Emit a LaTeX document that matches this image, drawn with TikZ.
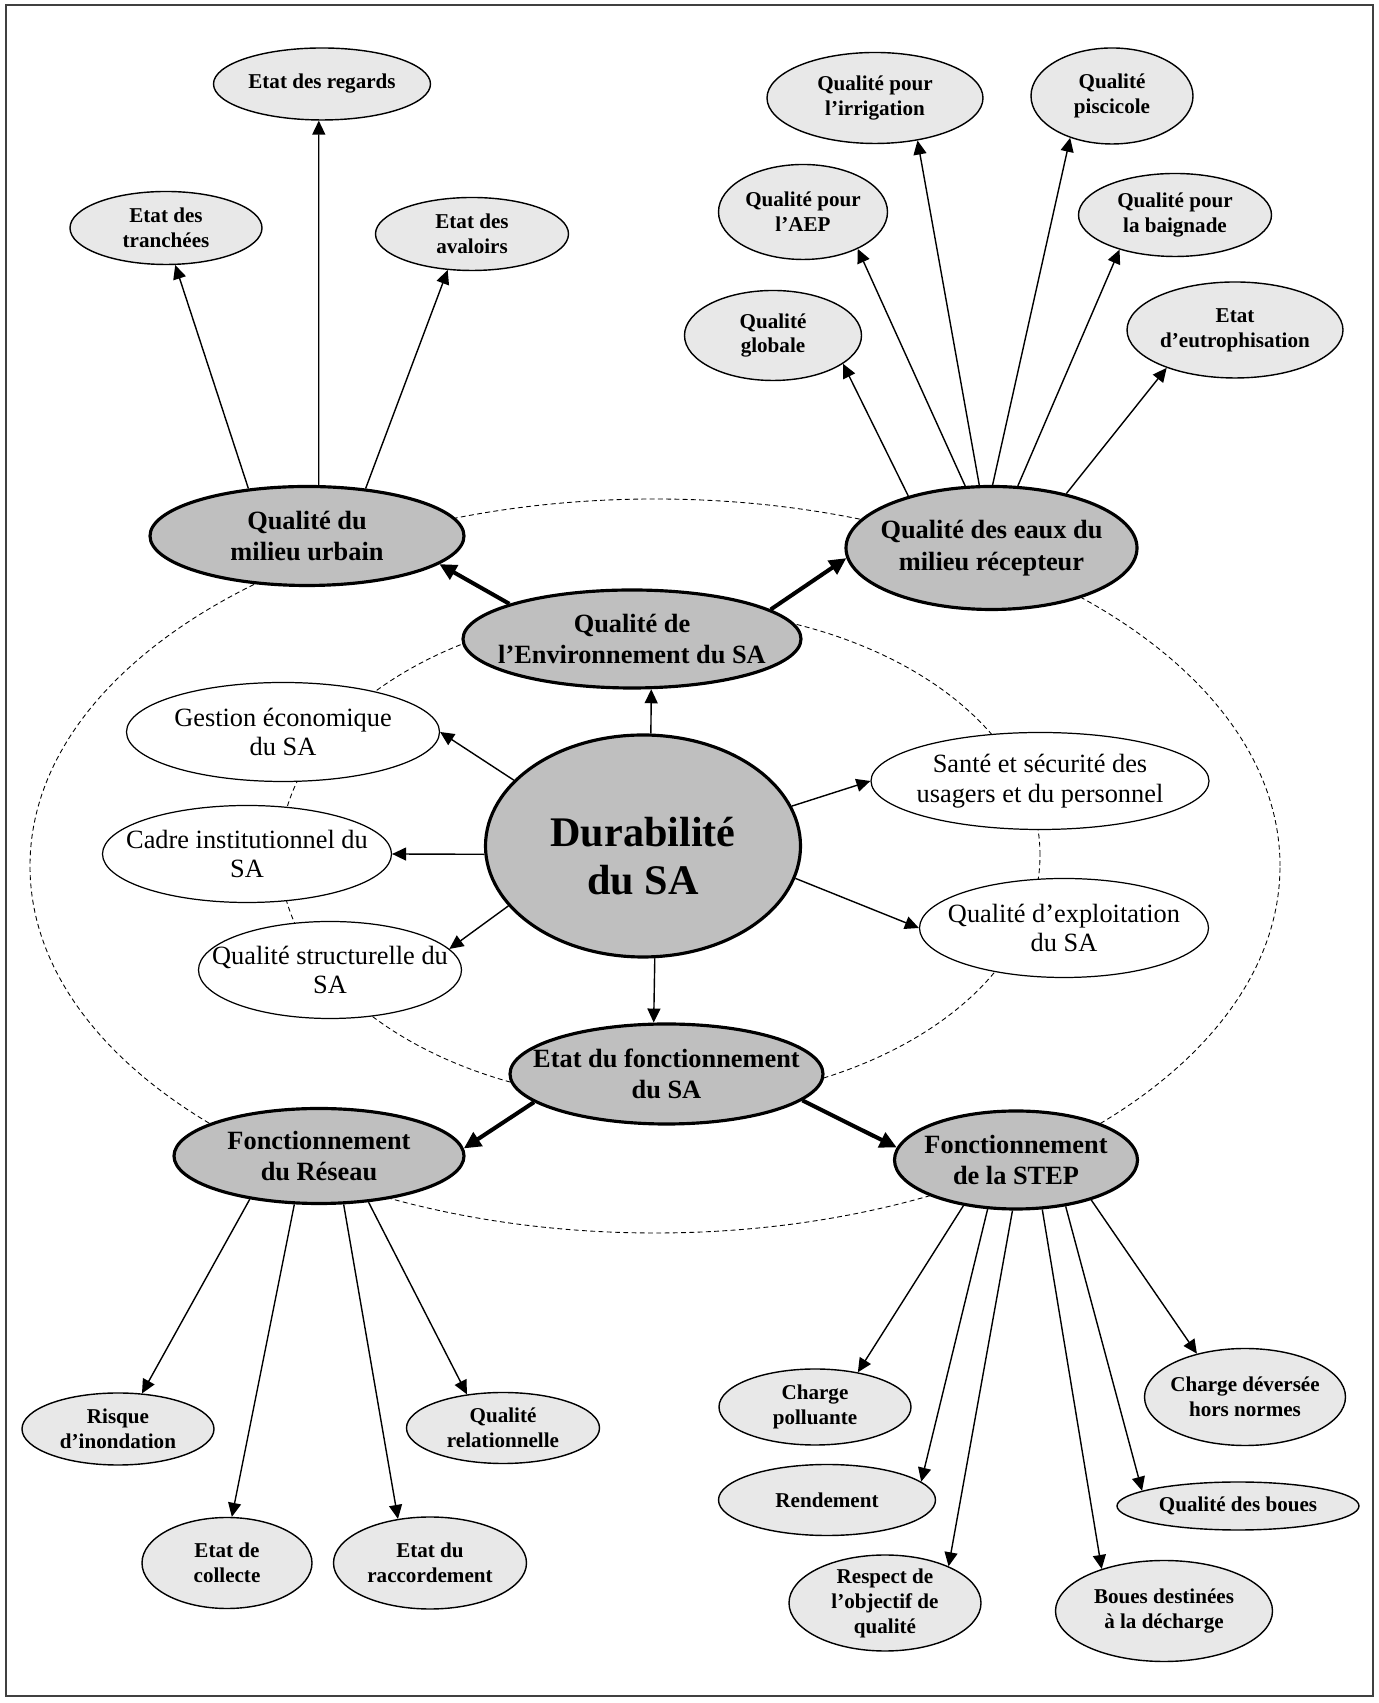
\documentclass[tikz,border=0pt]{standalone}
\usepackage{fontspec}
\setmainfont{Liberation Serif}
\usepackage{tikz}
\usetikzlibrary{shapes.geometric,arrows.meta}
\tikzset{
  esz/.style 2 args={minimum width=#1cm, minimum height=#2cm},
  ring/.style={dash pattern=on 2.8pt off 1.9pt, line width=0.5pt},
  core/.style={ellipse, draw, line width=1.8pt, fill=black!25, inner sep=0pt,
    label={[align=center, font=\bfseries\fontsize{15}{18}\selectfont]center:#1}},
  hub/.style={ellipse, draw, line width=1.8pt, fill=black!25, inner sep=0pt,
    label={[align=center, yshift=-0.2cm, font=\bfseries\fontsize{24}{27.5}\selectfont]center:#1}},
  leaf/.style={ellipse, draw, line width=0.8pt, fill=black!9, inner sep=0pt,
    label={[align=center, font=\bfseries\fontsize{12}{14.2}\selectfont]center:#1}},
  aspect/.style={ellipse, draw, line width=0.7pt, fill=white, inner sep=0pt,
    label={[align=center, font=\fontsize{15}{17}\selectfont]center:#1}},
  link/.style={-{Triangle[length=2.8mm, width=2.6mm]}, line width=0.8pt},
  biglink/.style={-{Triangle[length=3.4mm, width=3.2mm]}, line width=2.3pt},
}

\begin{document}
\begin{tikzpicture}
  \useasboundingbox (0,0) rectangle (27.56,34.06);
  \draw[black!75, line width=0.6pt] (0.12,0.14) rectangle (27.46,33.96);
  \draw[ring] (13.20,16.96) ellipse [x radius=7.60cm, y radius=4.94cm];
  \draw[ring] (13.10,16.74) ellipse [x radius=12.50cm, y radius=7.34cm];

  \node[leaf={Etat des regards}, esz={4.34}{1.44}] (regards) at (6.44,32.38) {};
  \node[leaf={Etat des\\tranchées}, esz={3.84}{1.46}] (tranchees) at (3.32,29.50) {};
  \node[leaf={Etat des\\avaloirs}, esz={3.86}{1.46}] (avaloirs) at (9.44,29.38) {};
  \node[core={Qualité du\\milieu urbain}, esz={6.28}{1.98}] (urbain) at (6.14,23.34) {};

  \node[leaf={Qualité pour\\l’irrigation}, esz={4.32}{1.82}] (irrigation) at (17.50,32.10) {};
  \node[leaf={Qualité\\piscicole}, esz={3.24}{1.92}] (piscicole) at (22.24,32.14) {};
  \node[leaf={Qualité pour\\l’AEP}, esz={3.38}{1.90}] (aep) at (16.06,29.82) {};
  \node[leaf={Qualité pour\\la baignade}, esz={3.86}{1.66}] (baignade) at (23.50,29.76) {};
  \node[leaf={Qualité\\globale}, esz={3.54}{1.80}] (globale) at (15.46,27.35) {};
  \node[leaf={Etat\\d’eutrophisation}, esz={4.32}{1.92}] (eutro) at (24.70,27.46) {};
  \node[core={Qualité des eaux du\\milieu récepteur}, esz={5.82}{2.46}] (eaux) at (19.83,23.10) {};

  \node[core={Qualité de\\l’Environnement du SA}, esz={6.76}{1.96}] (env) at (12.64,21.28) {};
  \node[hub={Durabilité\\du SA}, esz={6.30}{4.44}] (dur) at (12.86,17.14) {};
  \node[aspect={Gestion économique\\du SA}, esz={6.26}{1.98}] (gestion) at (5.66,19.42) {};
  \node[aspect={Cadre institutionnel du\\SA}, esz={5.78}{1.94}] (cadre) at (4.94,16.98) {};
  \node[aspect={Qualité structurelle du\\SA}, esz={5.26}{1.94}] (struct) at (6.60,14.66) {};
  \node[aspect={Santé et sécurité des\\usagers et du personnel}, esz={6.76}{1.94}] (sante) at (20.80,18.44) {};
  \node[aspect={Qualité d’exploitation\\du SA}, esz={5.78}{1.98}] (exploit) at (21.28,15.50) {};
  \node[core={Etat du fonctionnement\\du SA}, esz={6.26}{2.00}] (etatf) at (13.33,12.58) {};

  \node[core={Fonctionnement\\du Réseau}, esz={5.80}{1.90}] (reseau) at (6.38,10.94) {};
  \node[leaf={Risque\\d’inondation}, esz={3.84}{1.44}] (risque) at (2.36,5.48) {};
  \node[leaf={Qualité\\relationnelle}, esz={3.86}{1.42}] (relation) at (10.06,5.50) {};
  \node[leaf={Etat de\\collecte}, esz={3.40}{1.82}] (collecte) at (4.54,2.80) {};
  \node[leaf={Etat du\\raccordement}, esz={3.86}{1.84}] (raccord) at (8.60,2.80) {};

  \node[core={Fonctionnement\\de la STEP}, esz={4.86}{1.96}] (step) at (20.32,10.86) {};
  \node[leaf={Charge\\polluante}, esz={3.84}{1.52}] (polluante) at (16.30,5.92) {};
  \node[leaf={Rendement}, esz={4.34}{1.42}] (rendement) at (16.54,4.06) {};
  \node[leaf={Respect de\\l’objectif de\\qualité}, esz={3.84}{1.92}] (respect) at (17.70,2.00) {};
  \node[leaf={Charge déversée\\hors normes}, esz={4.02}{1.94}] (deversee) at (24.90,6.12) {};
  \node[leaf={Qualité des boues}, esz={4.84}{0.96}] (qboues) at (24.76,3.94) {};
  \node[leaf={Boues destinées\\à la décharge}, esz={4.34}{2.02}] (decharge) at (23.28,1.84) {};

  \draw[link] (urbain.77) -- (regards.-95);
  \draw[link] (urbain.141) -- (tranchees.-76);
  \draw[link] (urbain.39) -- (avaloirs.-124);
  \draw[link] (eaux.148) -- (globale.-22);
  \draw[link] (eaux.113) -- (aep.-34);
  \draw[link] (eaux.101) -- (irrigation.-45);
  \draw[link] (eaux.89) -- (piscicole.-135);
  \draw[link] (eaux.67) -- (baignade.-148);
  \draw[link] (eaux.36) -- (eutro.-151);

  \draw[link] (dur.86) -- (env.-69);
  \draw[link] (dur.153) -- (gestion.east);
  \draw[link] (dur.183) -- (cadre.east);
  \draw[link] (dur.204) -- (struct.10);
  \draw[link] (dur.15) -- (sante.west);
  \draw[link] (dur.-12) -- (exploit.west);
  \draw[link] (dur.-84) -- (etatf.104);

  \draw[biglink] (env.164) -- (urbain.-12);
  \draw[biglink] (env.12) -- (eaux.184);
  \draw[biglink] (etatf.192) -- (reseau.3);
  \draw[biglink] (etatf.-11) -- (step.174);

  \draw[link] (reseau.-148) -- (risque.56);
  \draw[link] (reseau.-117) -- (collecte.84);
  \draw[link] (reseau.-63) -- (raccord.126);
  \draw[link] (reseau.-43) -- (relation.137);

  \draw[link] (step.-139) -- (polluante.39);
  \draw[link] (step.-120) -- (rendement.11);
  \draw[link] (step.-94) -- (respect.30);
  \draw[link] (step.-62) -- (decharge.146);
  \draw[link] (step.-43) -- (qboues.171);
  \draw[link] (step.-28) -- (deversee.138);
\end{tikzpicture}
\end{document}
